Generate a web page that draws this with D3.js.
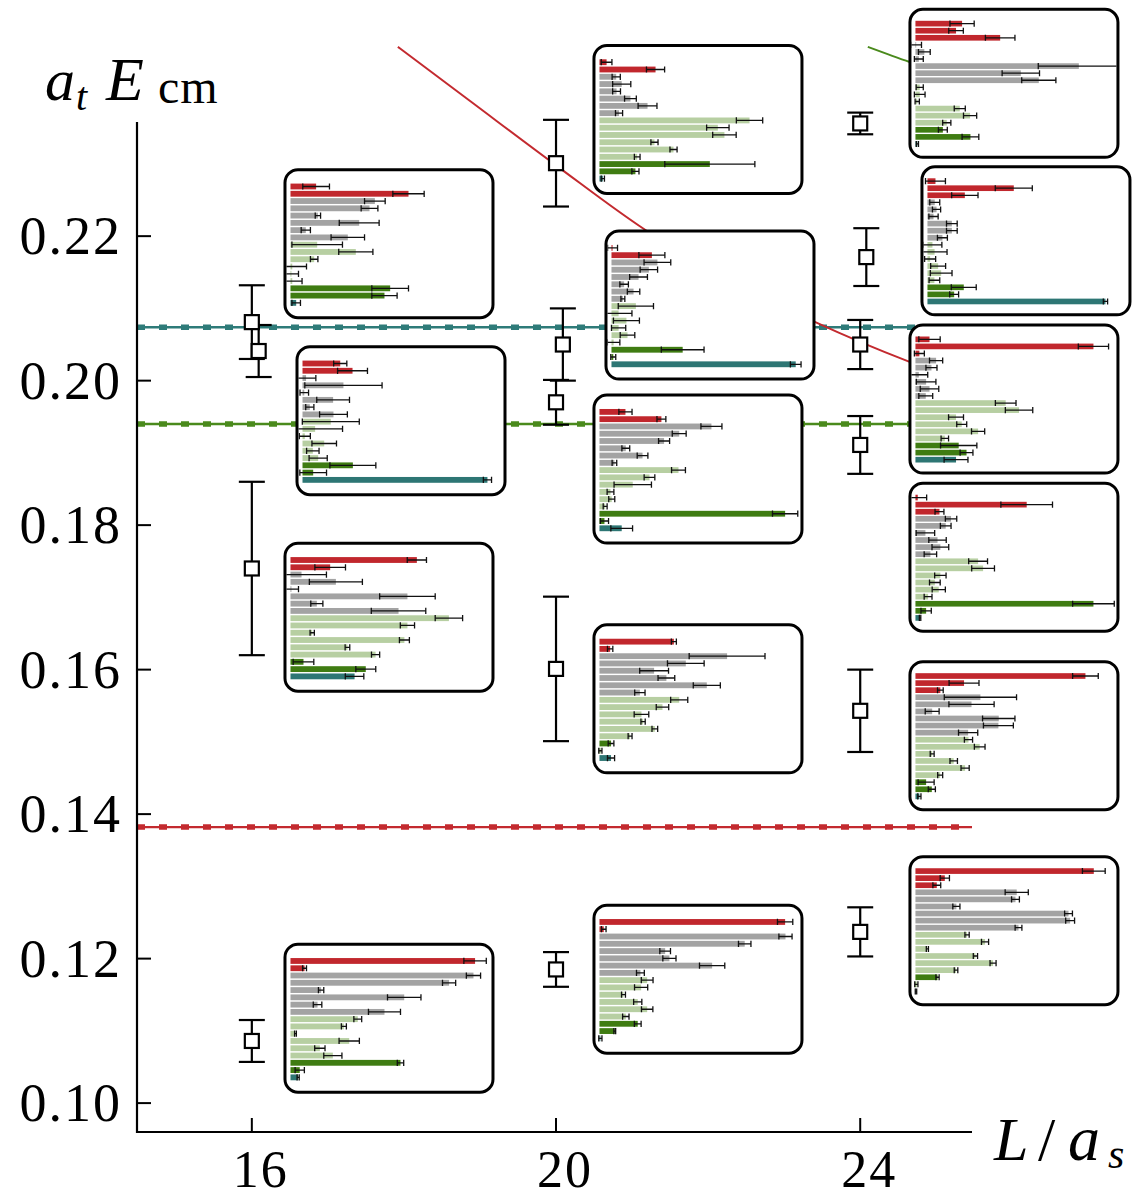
<!DOCTYPE html>
<html>
<head>
<meta charset="utf-8">
<script src="https://cdn.jsdelivr.net/npm/d3@7"></script>
<style>
  body { margin: 0; background: #fff; }
  svg { display: block; }
</style>
</head>
<body>
<div id="chart"></div>
<script>
// axis ticks
const tickL = [16, 20, 24];
const tickE = [0.10, 0.12, 0.14, 0.16, 0.18, 0.20, 0.22];

// finite-volume levels
const levelL = [16, 16.09, 16, 16, 20, 20.09, 20, 20, 20, 24, 24.08, 24, 24, 24, 24];
const levelE = [0.2081, 0.2041, 0.1740, 0.1086, 0.2301, 0.2050, 0.1970, 0.1601, 0.1185,
                0.2356, 0.2171, 0.2050, 0.1911, 0.1543, 0.1237];
const levelErr = [0.0051, 0.0036, 0.0120, 0.0029, 0.0060, 0.0050, 0.0031, 0.0100, 0.0024,
                  0.0015, 0.0040, 0.0034, 0.0040, 0.0057, 0.0034];

// thresholds
const thresholdE = [0.1382, 0.1940, 0.2074];
const thresholdKind = ['r', 'd', 't'];

// non-interacting curves
const curveRedL = [17.92, 18.87, 20.0, 21.24, 22.16, 23.41, 24.65, 25.47];
const curveRedE = [0.2462, 0.2387, 0.2298, 0.2204, 0.2147, 0.2081, 0.2026, 0.1995];
const curveGreenL = [24.10, 24.65, 25.47];
const curveGreenE = [0.2462, 0.2441, 0.2412];

// operator overlaps, [value, error] per row
const ov16a = [[0.144,0.075],[0.663,0.088],[0.474,0.058],[0.444,0.047],[0.154,0.015],[0.386,0.112],[0.086,0.026],[0.322,0.094],[0.150,0.142],[0.367,0.096],[0.133,0.021],[0.010,0.080],[0.005,0.040],[0.010,0.055],[0.560,0.103],[0.528,0.071],[0.032,0.024]];
const ov16b = [[0.212,0.037],[0.281,0.084],[0.020,0.055],[0.230,0.217],[0.010,0.024],[0.172,0.092],[0.041,0.023],[0.174,0.078],[0.159,0.160],[0.071,0.154],[0.013,0.031],[0.122,0.069],[0.058,0.035],[0.088,0.051],[0.283,0.129],[0.060,0.075],[1.039,0.023]];
const ov16c = [[0.710,0.054],[0.223,0.086],[0.062,0.140],[0.255,0.149],[0.005,0.040],[0.657,0.156],[0.148,0.034],[0.607,0.153],[0.890,0.077],[0.657,0.040],[0.122,0.012],[0.640,0.028],[0.320,0.013],[0.478,0.023],[0.073,0.058],[0.423,0.056],[0.360,0.052]];
const ov16d = [[1.037,0.063],[0.079,0.011],[1.028,0.040],[0.891,0.037],[0.172,0.015],[0.639,0.094],[0.152,0.024],[0.528,0.090],[0.378,0.022],[0.300,0.014],[0.028,0.005],[0.330,0.057],[0.165,0.029],[0.238,0.051],[0.618,0.018],[0.052,0.026],[0.043,0.006]];
const ov20a = [[0.040,0.030],[0.315,0.051],[0.094,0.023],[0.125,0.051],[0.096,0.022],[0.174,0.033],[0.270,0.053],[0.110,0.020],[0.843,0.074],[0.665,0.063],[0.702,0.066],[0.309,0.020],[0.416,0.020],[0.212,0.016],[0.620,0.253],[0.202,0.020],[0.019,0.009]];
const ov20b = [[0.006,0.028],[0.227,0.073],[0.258,0.075],[0.210,0.049],[0.152,0.050],[0.071,0.024],[0.124,0.035],[0.064,0.011],[0.137,0.099],[0.040,0.075],[0.084,0.073],[0.040,0.040],[0.090,0.041],[0.012,0.035],[0.400,0.120],[0.010,0.014],[1.035,0.030]];
const ov20c = [[0.146,0.037],[0.348,0.025],[0.629,0.059],[0.448,0.039],[0.363,0.031],[0.148,0.022],[0.242,0.030],[0.084,0.013],[0.444,0.039],[0.281,0.030],[0.187,0.105],[0.062,0.019],[0.069,0.017],[0.032,0.011],[1.043,0.071],[0.028,0.023],[0.125,0.061]];
const ov20d = [[0.418,0.014],[0.060,0.015],[0.717,0.213],[0.485,0.103],[0.307,0.081],[0.376,0.047],[0.603,0.076],[0.227,0.029],[0.448,0.048],[0.354,0.035],[0.236,0.041],[0.245,0.012],[0.311,0.016],[0.172,0.011],[0.065,0.016],[0.005,0.009],[0.065,0.020]];
const ov20e = [[1.043,0.043],[0.024,0.013],[1.045,0.037],[0.816,0.035],[0.369,0.030],[0.393,0.037],[0.633,0.071],[0.230,0.022],[0.268,0.033],[0.234,0.037],[0.135,0.011],[0.215,0.023],[0.268,0.032],[0.148,0.018],[0.215,0.019],[0.086,0.005],[0.005,0.009]];
const ov24a = [[0.262,0.068],[0.228,0.041],[0.476,0.083],[0.004,0.030],[0.050,0.033],[0.019,0.025],[0.918,0.228],[0.592,0.105],[0.693,0.096],[0.024,0.020],[0.024,0.030],[0.010,0.012],[0.249,0.031],[0.307,0.037],[0.176,0.023],[0.154,0.025],[0.309,0.047],[0.011,0.006]];
const ov24b = [[0.045,0.056],[0.485,0.104],[0.210,0.074],[0.041,0.028],[0.051,0.023],[0.034,0.026],[0.137,0.030],[0.137,0.030],[0.084,0.028],[0.028,0.053],[0.040,0.070],[0.015,0.031],[0.060,0.042],[0.077,0.061],[0.039,0.030],[0.204,0.070],[0.150,0.025],[1.000,0.012]];
const ov24c = [[0.079,0.060],[1.000,0.085],[0.022,0.028],[0.116,0.037],[0.090,0.031],[0.019,0.050],[0.060,0.055],[0.079,0.052],[0.058,0.039],[0.507,0.058],[0.582,0.077],[0.228,0.042],[0.260,0.028],[0.352,0.037],[0.165,0.021],[0.243,0.102],[0.287,0.036],[0.228,0.067]];
const ov24d = [[0.013,0.050],[0.625,0.145],[0.135,0.025],[0.200,0.032],[0.170,0.030],[0.056,0.052],[0.124,0.049],[0.140,0.047],[0.084,0.035],[0.352,0.053],[0.380,0.064],[0.140,0.032],[0.109,0.030],[0.131,0.037],[0.071,0.022],[1.000,0.117],[0.060,0.029],[0.026,0.004]];
const ov24e = [[0.955,0.072],[0.273,0.084],[0.140,0.016],[0.365,0.203],[0.315,0.127],[0.094,0.039],[0.468,0.091],[0.466,0.084],[0.296,0.054],[0.298,0.023],[0.361,0.030],[0.094,0.011],[0.215,0.021],[0.279,0.023],[0.139,0.014],[0.060,0.045],[0.092,0.020],[0.022,0.009]];
const ov24f = [[1.002,0.064],[0.165,0.026],[0.120,0.022],[0.569,0.065],[0.562,0.022],[0.230,0.020],[0.860,0.022],[0.869,0.025],[0.579,0.019],[0.290,0.012],[0.391,0.020],[0.067,0.006],[0.337,0.012],[0.436,0.017],[0.228,0.010],[0.124,0.009],[0.005,0.009],[0.003,0.004]];

// operator kinds per row (17 rows at L=16,20 ; 18 rows at L=24)
const rows17 = ['r','r','g','g','g','g','g','g','l','l','l','l','l','l','d','d','t'];
const rows18 = ['r','r','r','g','g','g','g','g','g','l','l','l','l','l','l','d','d','t'];

const insets = [ov16a, ov16b, ov16c, ov16d, ov20a, ov20b, ov20c, ov20d, ov20e,
                ov24a, ov24b, ov24c, ov24d, ov24e, ov24f];
// top-left corner of each inset box, in (L, E) of the main plot
const insetAt = [[16.436,0.2292],[16.594,0.2047],[16.436,0.1775],[16.436,0.1220],
                 [20.499,0.2464],[20.657,0.2207],[20.499,0.1980],[20.499,0.1662],[20.499,0.1274],
                 [24.654,0.2514],[24.812,0.2296],[24.654,0.2077],[24.654,0.1858],[24.654,0.1611],[24.654,0.1341]];

const colors = { r: '#c1272d', g: '#a3a3a3', l: '#b7cfa2', d: '#3f7c12', t: '#2d7674' };
const lineColors = { r: '#c32a2f', d: '#4a8a1c', t: '#2e7b79' };

const width = 1143, height = 1200;
const svg = d3.select('#chart').append('svg')
  .attr('width', width)
  .attr('height', height);

const x = d3.scaleLinear().domain([14.49, 25.47]).range([137, 972]);
const y = d3.scaleLinear().domain([0.096, 0.2358]).range([1132, 122]);

const serif = '"Liberation Serif", "DejaVu Serif", serif';

// thresholds: thin solid line plus thick dashes
thresholdE.forEach((e, i) => {
  const c = lineColors[thresholdKind[i]];
  svg.append('line')
    .attr('x1', x.range()[0]).attr('x2', x.range()[1])
    .attr('y1', y(e)).attr('y2', y(e))
    .attr('stroke', c).attr('stroke-width', 2.4);
  svg.append('line')
    .attr('x1', x.range()[0]).attr('x2', x.range()[1])
    .attr('y1', y(e)).attr('y2', y(e))
    .attr('stroke', c).attr('stroke-width', 5.5)
    .attr('stroke-dasharray', '8,14');
});

// curves
const curve = d3.line().x(d => x(d[0])).y(d => y(d[1])).curve(d3.curveMonotoneX);
svg.append('path')
  .attr('d', curve(d3.zip(curveRedL, curveRedE)))
  .attr('fill', 'none').attr('stroke', lineColors.r).attr('stroke-width', 2);
svg.append('path')
  .attr('d', curve(d3.zip(curveGreenL, curveGreenE)))
  .attr('fill', 'none').attr('stroke', lineColors.d).attr('stroke-width', 2);

// axes
svg.append('line')
  .attr('x1', x.range()[0]).attr('x2', x.range()[0])
  .attr('y1', y.range()[1]).attr('y2', y.range()[0] + 1)
  .attr('stroke', '#000').attr('stroke-width', 2.2);
svg.append('line')
  .attr('x1', x.range()[0] - 1).attr('x2', x.range()[1])
  .attr('y1', y.range()[0]).attr('y2', y.range()[0])
  .attr('stroke', '#000').attr('stroke-width', 2.2);

svg.selectAll('.ytick').data(tickE).join('line')
  .attr('x1', x.range()[0]).attr('x2', x.range()[0] + 14)
  .attr('y1', d => y(d)).attr('y2', d => y(d))
  .attr('stroke', '#000').attr('stroke-width', 2);
svg.selectAll('.ylab').data(tickE).join('text')
  .attr('x', 122).attr('y', d => y(d) + 18)
  .attr('text-anchor', 'end')
  .attr('font-family', serif).attr('font-size', 54)
  .attr('letter-spacing', 2)
  .text(d => d3.format('.2f')(d));

svg.selectAll('.xtick').data(tickL).join('line')
  .attr('x1', d => x(d)).attr('x2', d => x(d))
  .attr('y1', y.range()[0]).attr('y2', y.range()[0] - 14)
  .attr('stroke', '#000').attr('stroke-width', 2);
svg.selectAll('.xlab').data(tickL).join('text')
  .attr('x', d => x(d) + 9).attr('y', 1187)
  .attr('text-anchor', 'middle')
  .attr('font-family', serif).attr('font-size', 52)
  .attr('letter-spacing', 2)
  .text(d => d);

// axis titles
const yt = svg.append('text').attr('font-family', serif).attr('y', 100);
yt.append('tspan').attr('x', 45).attr('font-style', 'italic').attr('font-size', 60).text('a');
yt.append('tspan').attr('x', 76).attr('dy', 10).attr('font-style', 'italic').attr('font-size', 40).text('t');
yt.append('tspan').attr('x', 106).attr('dy', -10).attr('font-style', 'italic').attr('font-size', 62).text('E');
yt.append('tspan').attr('x', 158).attr('dy', 3).attr('font-size', 48).attr('letter-spacing', 1).text('cm');

const xt = svg.append('text').attr('font-family', serif).attr('y', 1160);
xt.append('tspan').attr('x', 994).attr('font-style', 'italic').attr('font-size', 62).text('L');
xt.append('tspan').attr('x', 1038).attr('font-size', 62).text('/');
xt.append('tspan').attr('x', 1068).attr('font-style', 'italic').attr('font-size', 64).text('a');
xt.append('tspan').attr('x', 1108).attr('dy', 8).attr('font-style', 'italic').attr('font-size', 42).text('s');

// levels with error bars
const levels = d3.zip(levelL, levelE, levelErr);
const lv = svg.append('g');
lv.selectAll('.stem').data(levels).join('line')
  .attr('x1', d => x(d[0])).attr('x2', d => x(d[0]))
  .attr('y1', d => y(d[1] + d[2])).attr('y2', d => y(d[1] - d[2]))
  .attr('stroke', '#000').attr('stroke-width', 2.2);
lv.selectAll('.capT').data(levels).join('line')
  .attr('x1', d => x(d[0]) - 13).attr('x2', d => x(d[0]) + 13)
  .attr('y1', d => y(d[1] + d[2])).attr('y2', d => y(d[1] + d[2]))
  .attr('stroke', '#000').attr('stroke-width', 2.2);
lv.selectAll('.capB').data(levels).join('line')
  .attr('x1', d => x(d[0]) - 13).attr('x2', d => x(d[0]) + 13)
  .attr('y1', d => y(d[1] - d[2])).attr('y2', d => y(d[1] - d[2]))
  .attr('stroke', '#000').attr('stroke-width', 2.2);
lv.selectAll('.sq').data(levels).join('rect')
  .attr('x', d => x(d[0]) - 7).attr('y', d => y(d[1]) - 7)
  .attr('width', 14).attr('height', 14)
  .attr('fill', '#fff').attr('stroke', '#000').attr('stroke-width', 2.2);

// overlap insets
const boxW = 208, boxH = 148;
const ox = d3.scaleLinear().domain([0, 1]).range([5.5, 183.5]);

insets.forEach((rows, i) => {
  const kinds = rows.length === 18 ? rows18 : rows17;
  const band = d3.scaleBand()
    .domain(d3.range(rows.length))
    .range(rows.length === 18 ? [11.5, 137.5] : [13.9, 136.1])
    .paddingInner(0.2);
  const g = svg.append('g')
    .attr('transform', `translate(${x(insetAt[i][0])},${y(insetAt[i][1])})`);
  const clipId = `clip${i}`;
  g.append('clipPath').attr('id', clipId)
    .append('rect').attr('x', 1.5).attr('y', 1.5)
    .attr('width', boxW - 3).attr('height', boxH - 3).attr('rx', 12);
  g.append('rect')
    .attr('width', boxW).attr('height', boxH).attr('rx', 13)
    .attr('fill', '#fff');
  const inner = g.append('g').attr('clip-path', `url(#${clipId})`);
  inner.selectAll('.bar').data(rows).join('rect')
    .attr('x', ox(0))
    .attr('y', (d, j) => band(j))
    .attr('width', d => Math.max(0, ox(d[0]) - ox(0)))
    .attr('height', band.bandwidth())
    .attr('fill', (d, j) => colors[kinds[j]]);
  inner.selectAll('.err').data(rows).join('line')
    .attr('x1', d => ox(d[0] - d[1])).attr('x2', d => ox(d[0] + d[1]))
    .attr('y1', (d, j) => band(j) + band.bandwidth() / 2)
    .attr('y2', (d, j) => band(j) + band.bandwidth() / 2)
    .attr('stroke', '#111').attr('stroke-width', 1.3);
  inner.selectAll('.capL').data(rows).join('line')
    .attr('x1', d => ox(d[0] - d[1])).attr('x2', d => ox(d[0] - d[1]))
    .attr('y1', (d, j) => band(j) - 0.2)
    .attr('y2', (d, j) => band(j) + band.bandwidth() + 0.2)
    .attr('stroke', '#111').attr('stroke-width', 1.3);
  inner.selectAll('.capR').data(rows).join('line')
    .attr('x1', d => ox(d[0] + d[1])).attr('x2', d => ox(d[0] + d[1]))
    .attr('y1', (d, j) => band(j) - 0.2)
    .attr('y2', (d, j) => band(j) + band.bandwidth() + 0.2)
    .attr('stroke', '#111').attr('stroke-width', 1.3);
  g.append('rect')
    .attr('x', 0).attr('y', 0)
    .attr('width', boxW).attr('height', boxH).attr('rx', 13)
    .attr('fill', 'none').attr('stroke', '#000').attr('stroke-width', 3);
});
</script>
</body>
</html>
